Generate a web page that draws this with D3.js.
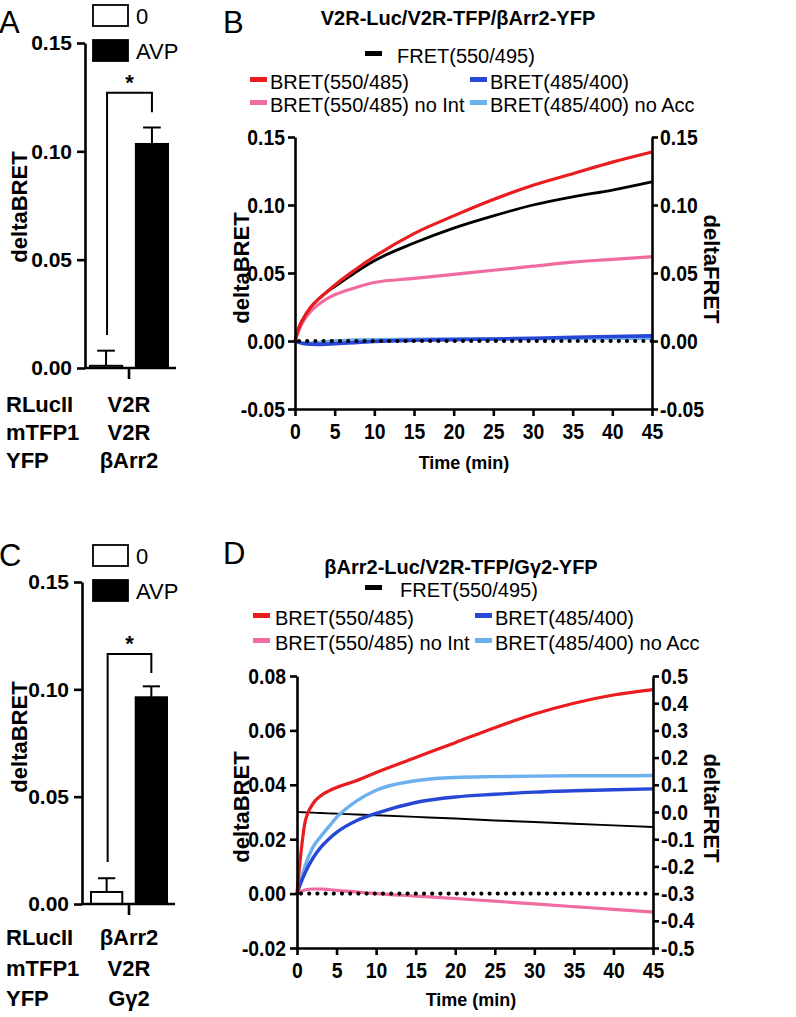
<!DOCTYPE html>
<html><head><meta charset="utf-8">
<script src="https://cdn.jsdelivr.net/npm/d3@7"></script>
<style>body{margin:0;background:#fff} text{font-family:"Liberation Sans",Arial,Helvetica,sans-serif}</style>
</head><body><svg id="c" width="796" height="1017"></svg>
<script>
// ---------- DATA ----------
const barGroups = ["0", "AVP"];
const barValuesA = [0.001, 0.1034];
const barErrA = [0.007, 0.0076];
const barValuesC = [0.0056, 0.0963];
const barErrC = [0.0064, 0.0051];
const sigA = [0.127, 0.0152, 0.118];   // bracket top, left leg end, right leg end
const sigC = [0.1165, 0.0196, 0.1076];
const barTicks = [0, 0.05, 0.10, 0.15];
const rowLabels = ["RLucII", "mTFP1", "YFP"];
const constructA = ["V2R", "V2R", "\u03B2Arr2"];
const constructC = ["\u03B2Arr2", "V2R", "G\u03B32"];

const timeMin = [0, 0.5, 1, 2, 3, 4, 5, 7.5, 10, 15, 20, 25, 30, 35, 40, 45];
const timeTicks = [0, 5, 10, 15, 20, 25, 30, 35, 40, 45];
const seriesNames = ["FRET(550/495)", "BRET(550/485)", "BRET(485/400)", "BRET(550/485) no Int", "BRET(485/400) no Acc"];

const bretB = [0, 0.010, 0.016, 0.025, 0.031, 0.036, 0.041, 0.052, 0.062, 0.079, 0.092, 0.104, 0.1145, 0.123, 0.1315, 0.139];
const fretB = [0, 0.010, 0.016, 0.025, 0.031, 0.036, 0.040, 0.050, 0.059, 0.072, 0.083, 0.092, 0.100, 0.106, 0.111, 0.117];
const bretNoIntB = [0, 0.008, 0.014, 0.022, 0.027, 0.031, 0.034, 0.039, 0.043, 0.046, 0.049, 0.052, 0.055, 0.058, 0.060, 0.062];
const bret485B = [0, -0.001, -0.0018, -0.0024, -0.0025, -0.0023, -0.002, -0.0012, -0.0004, 0.0005, 0.001, 0.0015, 0.002, 0.0028, 0.0033, 0.0038];
const bret485NoAccB = [0, -0.001, -0.0015, -0.0015, -0.001, -0.0005, 0, 0.0008, 0.001, 0.0013, 0.0015, 0.0016, 0.0017, 0.0018, 0.0019, 0.002];
const ticksB = [-0.05, 0, 0.05, 0.10, 0.15];

const bretD = [0, 0.015, 0.026, 0.033, 0.036, 0.0377, 0.039, 0.0415, 0.0445, 0.050, 0.0555, 0.061, 0.066, 0.070, 0.073, 0.075];
const fretD = [0, -0.0006, -0.0012, -0.0024, -0.0037, -0.0049, -0.006, -0.009, -0.012, -0.018, -0.024, -0.031, -0.037, -0.043, -0.049, -0.055];
const bretNoIntD = [0, 0.0008, 0.0013, 0.0017, 0.0017, 0.0015, 0.0012, 0.0006, 0.0, -0.0009, -0.0018, -0.0028, -0.0038, -0.0048, -0.0058, -0.0068];
const bret485D = [0, 0.004, 0.0075, 0.013, 0.017, 0.020, 0.0225, 0.0268, 0.0295, 0.0335, 0.0355, 0.0365, 0.0373, 0.0378, 0.0382, 0.0385];
const bret485NoAccD = [0, 0.005, 0.010, 0.017, 0.021, 0.0245, 0.028, 0.034, 0.038, 0.0415, 0.0427, 0.0430, 0.0432, 0.0433, 0.0433, 0.0434];
const ticksDLeft = [-0.02, 0, 0.02, 0.04, 0.06, 0.08];
const ticksDRight = [-0.5, -0.4, -0.3, -0.2, -0.1, 0.0, 0.1, 0.2, 0.3, 0.4, 0.5];

// ---------- STYLE ----------
const C = { fret: "#000000", red: "#ea1c1f", blue: "#2747d6", pink: "#f06ca0", lblue: "#6db0ee" };
const svg = d3.select("#c");
svg.append("rect").attr("width", 796).attr("height", 1017).attr("fill", "#fff");

function styleAxis(g, fs, sx) {
  g.selectAll("path.domain").attr("stroke", "#000").attr("stroke-width", 2.6);
  g.selectAll(".tick line").attr("stroke", "#000").attr("stroke-width", 2.6);
  g.selectAll(".tick text").attr("font-size", fs).attr("font-weight", "bold").attr("fill", "#000")
    .attr("font-family", '"Liberation Sans",Arial,sans-serif');
  if (sx !== 1) {
    g.selectAll(".tick text").each(function () {
      const t = d3.select(this);
      const x = +(this.getAttribute("x") || 0);
      t.attr("x", x / sx).attr("transform", `scale(${sx},1)`);
    });
  }
}

function text(g, x, y, s, o = {}) {
  const t = g.append("text").attr("x", x).attr("y", y).text(s)
    .attr("font-size", o.fs || 20).attr("font-weight", o.bold ? "bold" : "normal")
    .attr("text-anchor", o.anchor || "start").attr("fill", "#000");
  if (o.rot) t.attr("transform", `rotate(${o.rot},${x},${y})`);
  return t;
}

// ---------- BAR PANELS ----------
function barPanel(cfg) {
  const g = svg.append("g");
  const y = d3.scaleLinear().domain([0, 0.15]).range([cfg.y0, cfg.y15]);
  const x = d3.scaleBand().domain(barGroups).range(cfg.band).paddingInner(0.3);
  g.selectAll("rect.bar").data(barGroups).enter().append("rect")
    .attr("x", d => x(d)).attr("width", x.bandwidth())
    .attr("y", (d, i) => y(cfg.vals[i])).attr("height", (d, i) => y(0) - y(cfg.vals[i]))
    .attr("fill", (d, i) => i === 0 ? "#fff" : "#000").attr("stroke", "#000").attr("stroke-width", 2);
  barGroups.forEach((d, i) => {
    const cx = x(d) + x.bandwidth() / 2, w = x.bandwidth() * 0.55;
    g.append("line").attr("x1", cx).attr("x2", cx).attr("y1", y(cfg.vals[i])).attr("y2", y(cfg.vals[i] + cfg.errs[i]))
      .attr("stroke", "#000").attr("stroke-width", 2);
    g.append("line").attr("x1", cx - w / 2).attr("x2", cx + w / 2).attr("y1", y(cfg.vals[i] + cfg.errs[i])).attr("y2", y(cfg.vals[i] + cfg.errs[i]))
      .attr("stroke", "#000").attr("stroke-width", 2);
  });
  const lx = x("0") + x.bandwidth() / 2 + 1, rx = x("AVP") + x.bandwidth() / 2;
  g.append("path").attr("d", `M${lx},${y(cfg.sig[1])}V${y(cfg.sig[0])}H${rx}V${y(cfg.sig[2])}`)
    .attr("fill", "none").attr("stroke", "#000").attr("stroke-width", 2);
  text(g, (lx + rx) / 2, y(cfg.sig[0]) - 3, "*", { fs: 22, bold: true, anchor: "middle" });
  const ya = g.append("g").attr("transform", `translate(${cfg.axisX},0)`)
    .call(d3.axisLeft(y).tickValues(barTicks).tickFormat(d => d.toFixed(2)).tickSize(8).tickPadding(5).tickSizeOuter(0));
  styleAxis(ya, 21, 1);
  g.append("line").attr("x1", cfg.axisX).attr("x2", cfg.xEnd).attr("y1", cfg.y0).attr("y2", cfg.y0)
    .attr("stroke", "#000").attr("stroke-width", 2.6);
  const xa = d3.scalePoint().domain(["c"]).range([cfg.band[0], cfg.band[1]]).padding(0.5);
  g.append("line").attr("x1", xa("c")).attr("x2", xa("c")).attr("y1", cfg.y0).attr("y2", cfg.y0 + 11)
    .attr("stroke", "#000").attr("stroke-width", 2.6);
  g.append("rect").attr("x", 93).attr("y", cfg.legY[0]).attr("width", 35).attr("height", 21).attr("fill", "#fff").attr("stroke", "#000").attr("stroke-width", 1.8);
  g.append("rect").attr("x", 93).attr("y", cfg.legY[1]).attr("width", 35).attr("height", 21).attr("fill", "#000").attr("stroke", "#000").attr("stroke-width", 1.8);
  text(g, 136, cfg.legY[0] + 19, barGroups[0], { fs: 22 });
  text(g, 136, cfg.legY[1] + 19, barGroups[1], { fs: 22 });
  text(g, -1, cfg.letterY, cfg.letter, { fs: 31 });
  text(g, 27, cfg.labelY, "deltaBRET", { fs: 22, bold: true, anchor: "middle", rot: -90 });
  rowLabels.forEach((r, i) => {
    text(g, 6, cfg.rowY[i], r, { fs: 22, bold: true });
    text(g, xa("c"), cfg.rowY[i], cfg.constructs[i], { fs: 22, bold: true, anchor: "middle" });
  });
}

barPanel({ y0: 368, y15: 43, axisX: 85, xEnd: 176, band: [90, 168], vals: barValuesA, errs: barErrA, sig: sigA,
  legY: [5, 40], letter: "A", letterY: 33, labelY: 207, rowY: [412, 440, 468], constructs: constructA });
barPanel({ y0: 904, y15: 582, axisX: 82, xEnd: 175, band: [91, 167], vals: barValuesC, errs: barErrC, sig: sigC,
  legY: [545, 580], letter: "C", letterY: 566, labelY: 737, rowY: [945, 976, 1006], constructs: constructC });

// ---------- LINE PANELS ----------
function linePanel(cfg) {
  const g = svg.append("g");
  const x = d3.scaleLinear().domain([0, 45]).range([cfg.left, cfg.right]);
  const y = d3.scaleLinear().domain(cfg.yDom).range([cfg.bottom, cfg.top]);
  const y2 = d3.scaleLinear().domain(cfg.y2Dom).range([cfg.bottom, cfg.top]);
  cfg.series.forEach(s => {
    const sc = s.right ? y2 : y;
    const line = d3.line().x((d, i) => x(timeMin[i])).y(d => sc(d)).curve(d3.curveMonotoneX);
    g.append("path").attr("d", line(s.vals)).attr("fill", "none").attr("stroke", s.color)
      .attr("stroke-width", s.w).attr("stroke-linejoin", "round");
  });
  // zero dotted line
  g.append("line").attr("x1", x(0) + 4).attr("x2", x(45)).attr("y1", y(0)).attr("y2", y(0))
    .attr("stroke", "#000").attr("stroke-width", 4.2).attr("stroke-linecap", "round").attr("stroke-dasharray", "0,8.2");
  const ax = g.append("g").attr("transform", `translate(0,${cfg.bottom})`)
    .call(d3.axisBottom(x).tickValues(timeTicks).tickFormat(d => d).tickSize(7).tickPadding(7).tickSizeOuter(0));
  styleAxis(ax, 22, 0.88);
  const ayl = g.append("g").attr("transform", `translate(${cfg.left},0)`)
    .call(d3.axisLeft(y).tickValues(cfg.yTicks).tickFormat(d => d.toFixed(2)).tickSize(7).tickPadding(cfg.lpad).tickSizeOuter(0));
  styleAxis(ayl, 22, 0.88);
  const ayr = g.append("g").attr("transform", `translate(${cfg.right},0)`)
    .call(d3.axisRight(y2).tickValues(cfg.y2Ticks).tickFormat(d => d.toFixed(cfg.y2Dec)).tickSize(6).tickPadding(2).tickSizeOuter(0));
  styleAxis(ayr, 22, 0.88);
  text(g, 249, (cfg.top + cfg.bottom) / 2 - 5, "deltaBRET", { fs: 22, bold: true, anchor: "middle", rot: -90 });
  text(g, 704, (cfg.top + cfg.bottom) / 2 - 4, "deltaFRET", { fs: 22, bold: true, anchor: "middle", rot: 90 });
  text(g, cfg.timeX, cfg.timeY, "Time (min)", { fs: 18, bold: true, anchor: "middle" });
  text(g, cfg.titleX, cfg.titleY, cfg.title, { fs: 20, bold: true, anchor: "middle" });
  text(g, 223, cfg.letterY, cfg.letter, { fs: 31 });
  const L = cfg.leg;
  const items = [
    { name: seriesNames[0], color: C.fret, dx: L.fx, tx: L.ftx, by: L.by[0] },
    { name: seriesNames[1], color: C.red, dx: L.c1, tx: L.t1, by: L.by[1] },
    { name: seriesNames[2], color: C.blue, dx: L.c2, tx: L.t2, by: L.by[1] },
    { name: seriesNames[3], color: C.pink, dx: L.c1, tx: L.t1, by: L.by[2] },
    { name: seriesNames[4], color: C.lblue, dx: L.c2, tx: L.t2, by: L.by[2] }
  ];
  items.forEach(it => {
    g.append("rect").attr("x", it.dx).attr("y", it.by - 12).attr("width", 17).attr("height", 5).attr("fill", it.color);
    text(g, it.tx, it.by, it.name, { fs: 20 });
  });
}

linePanel({
  left: 295, right: 652, top: 137, bottom: 409, yDom: [-0.05, 0.15], y2Dom: [-0.05, 0.15],
  yTicks: ticksB, y2Ticks: ticksB, y2Dec: 2, lpad: 3,
  series: [
    { vals: bret485NoAccB, color: C.lblue, w: 3.4 },
    { vals: bret485B, color: C.blue, w: 3.6 },
    { vals: bretNoIntB, color: C.pink, w: 3.2 },
    { vals: fretB, color: C.fret, w: 2.8, right: true },
    { vals: bretB, color: C.red, w: 3.2 }
  ],
  timeX: 464, timeY: 469, title: "V2R-Luc/V2R-TFP/\u03B2Arr2-YFP", titleX: 458, titleY: 25, letter: "B", letterY: 33,
  leg: { fx: 365, ftx: 397, c1: 250, t1: 270, c2: 470, t2: 490, by: [63, 89, 112] }
});

linePanel({
  left: 297, right: 653, top: 676, bottom: 948, yDom: [-0.02, 0.08], y2Dom: [-0.5, 0.5],
  yTicks: ticksDLeft, y2Ticks: ticksDRight, y2Dec: 1, lpad: 4,
  series: [
    { vals: fretD, color: C.fret, w: 1.9, right: true },
    { vals: bretNoIntD, color: C.pink, w: 3.2 },
    { vals: bret485NoAccD, color: C.lblue, w: 3.4 },
    { vals: bret485D, color: C.blue, w: 3.4 },
    { vals: bretD, color: C.red, w: 3.2 }
  ],
  timeX: 471, timeY: 1006, title: "\u03B2Arr2-Luc/V2R-TFP/G\u03B32-YFP", titleX: 461, titleY: 574, letter: "D", letterY: 564,
  leg: { fx: 365, ftx: 400, c1: 253, t1: 275, c2: 475, t2: 495, by: [597, 625, 650] }
});
</script></body></html>
